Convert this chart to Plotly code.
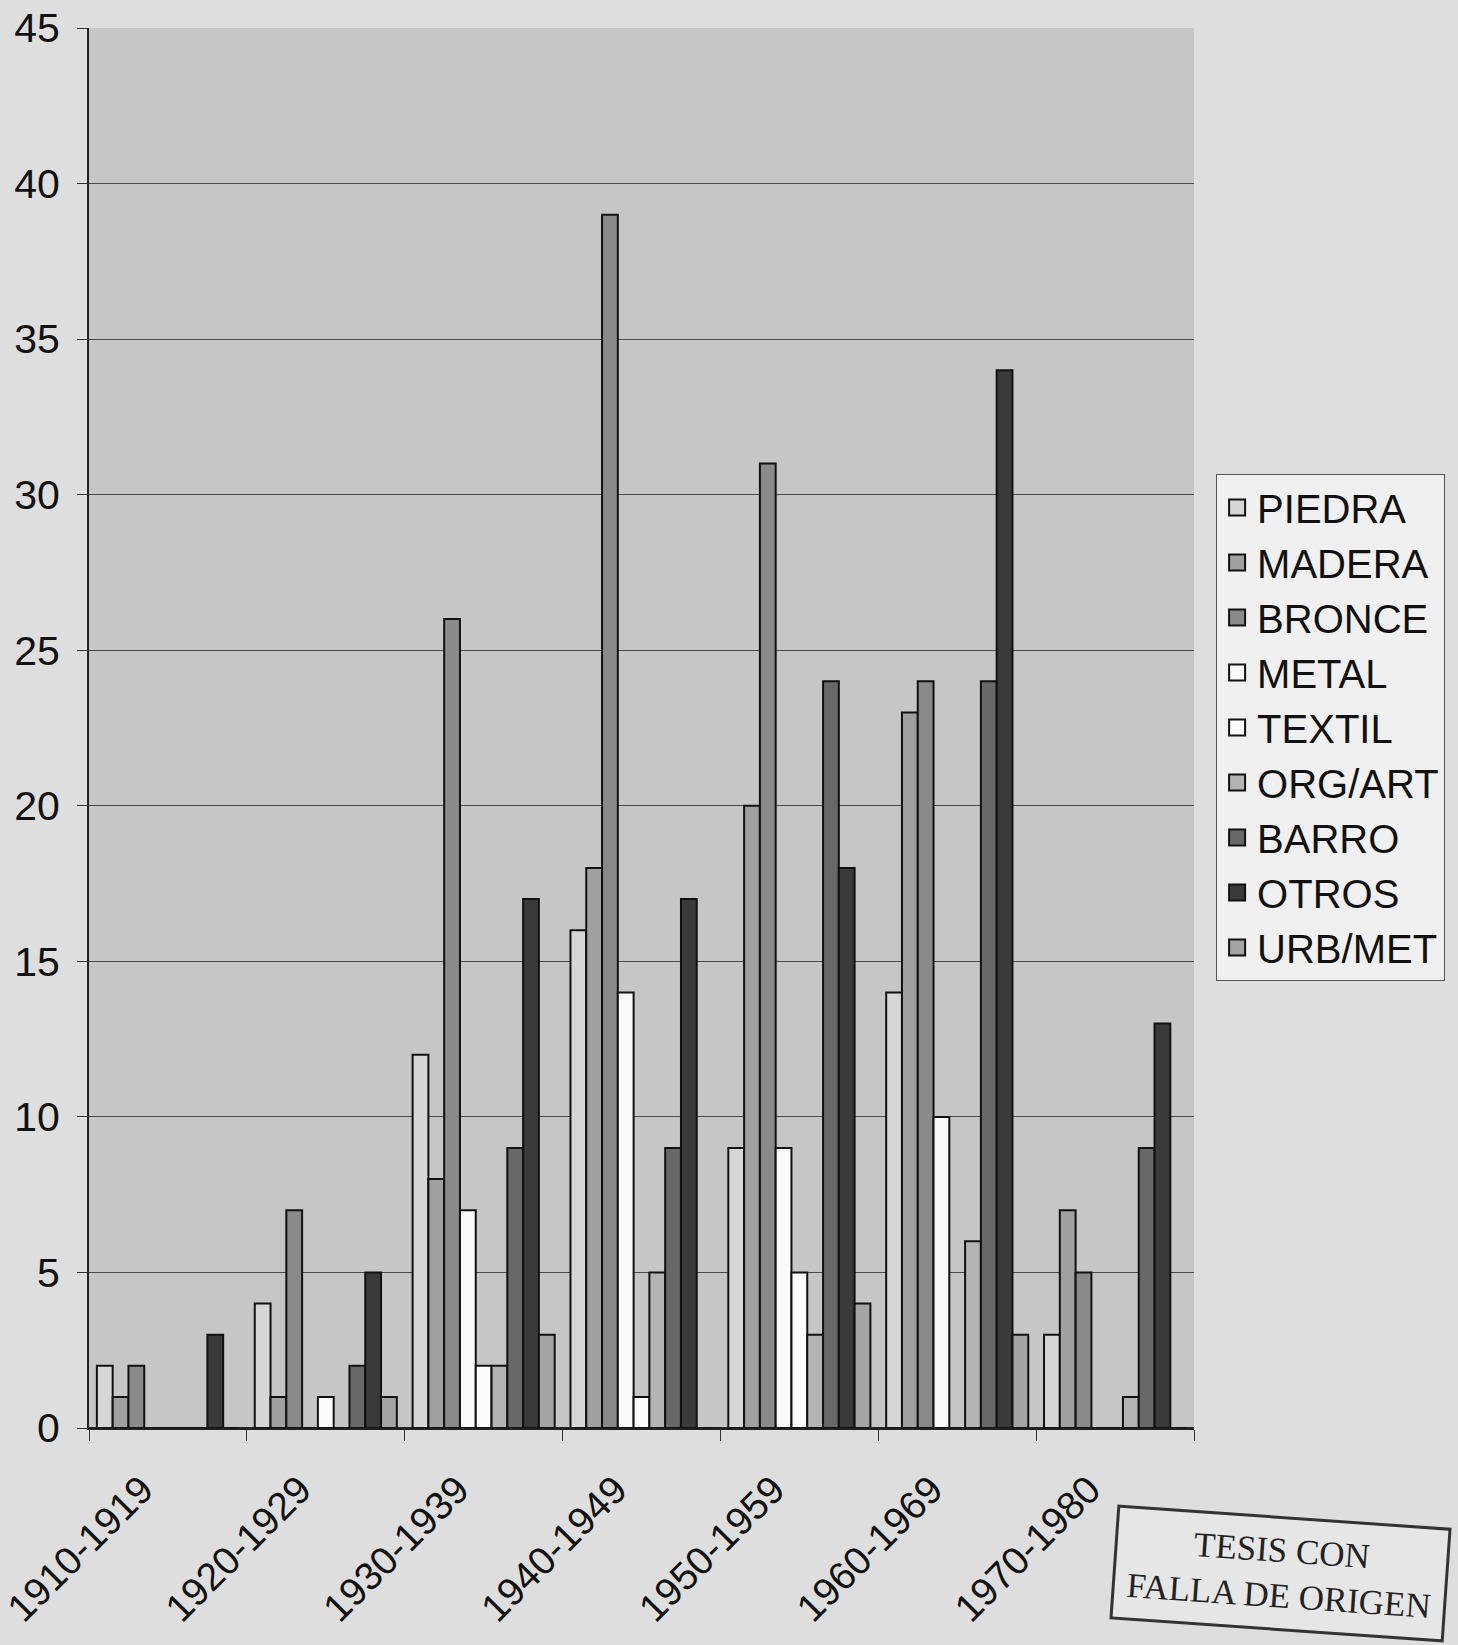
import plotly.graph_objects as go

decades = ["1910-1919", "1920-1929", "1930-1939", "1940-1949", "1950-1959", "1960-1969", "1970-1980"]

piedra  = [2, 4, 12, 16, 9, 14, 3]
madera  = [1, 1, 8, 18, 20, 23, 7]
bronce  = [2, 7, 26, 39, 31, 24, 5]
metal   = [0, 0, 7, 14, 9, 10, 0]
textil  = [0, 1, 2, 1, 5, 0, 0]
org_art = [0, 0, 2, 5, 3, 6, 1]
barro   = [0, 2, 9, 9, 24, 24, 9]
otros   = [3, 5, 17, 17, 18, 34, 13]
urb_met = [0, 1, 3, 0, 4, 3, 0]

series_names = ["PIEDRA", "MADERA", "BRONCE", "METAL", "TEXTIL", "ORG/ART", "BARRO", "OTROS", "URB/MET"]
series_values = [piedra, madera, bronce, metal, textil, org_art, barro, otros, urb_met]
series_colors = ["#d6d6d6", "#a0a0a0", "#8a8a8a", "#fafafa", "#fcfcfc", "#b4b4b4", "#686868", "#3a3a3a", "#a4a4a4"]

y_ticks = list(range(0, 46, 5))

fig = go.Figure()
for name, vals, col in zip(series_names, series_values, series_colors):
    fig.add_trace(go.Bar(
        name=name, x=decades, y=vals, showlegend=False,
        marker=dict(color=col, line=dict(color="#111111", width=2)),
    ))
# legend swatches (larger squares, as in the original legend)
for name, col in zip(series_names, series_colors):
    fig.add_trace(go.Scatter(
        name=name, x=[None], y=[None], mode="markers",
        marker=dict(symbol="square", size=20, color=col, line=dict(color="#111111", width=2)),
        hoverinfo="skip",
    ))

fig.update_layout(
    width=1458, height=1645,
    barmode="group", bargap=0.1, bargroupgap=0,
    paper_bgcolor="#dedede", plot_bgcolor="#c6c6c6",
    margin=dict(l=89, r=264, t=28, b=217),
    font=dict(family="Liberation Sans, Arial, sans-serif", color="#111111"),
    legend=dict(
        x=1.02, y=0.6815, xanchor="left", yanchor="top",
        bgcolor="#f0f0f0", bordercolor="#555555", borderwidth=1,
        font=dict(size=40, color="#111111"),
        tracegroupgap=0, itemwidth=30, itemsizing="trace",
    ),
    showlegend=True,
)

fig.update_xaxes(
    type="category", tickangle=-45, tickfont=dict(size=39),
    showline=True, linecolor="#222222", linewidth=2,
    ticks="outside", tickson="boundaries", ticklen=11, tickcolor="#333333",
    ticklabelshift=-26, ticklabelstandoff=21,
    showgrid=False, automargin=False, mirror=False,
)
fig.update_yaxes(
    range=[0, 45], tickvals=y_ticks, tickfont=dict(size=41),
    showline=True, linecolor="#222222", linewidth=2,
    ticks="outside", ticklen=10, tickcolor="#333333",
    ticklabelstandoff=9,
    showgrid=True, gridcolor="#4a4a4a", gridwidth=1,
    zeroline=True, zerolinecolor="#222222", zerolinewidth=2,
    automargin=False,
)

fig.add_annotation(
    xref="paper", yref="paper", x=1.078, y=-0.104, xanchor="center", yanchor="middle",
    text="TESIS CON<br>FALLA DE ORIGEN", showarrow=False,
    font=dict(family="Liberation Serif, Times New Roman, serif", size=35, color="#222222"),
    bordercolor="#333333", borderwidth=3, borderpad=12, textangle=4,
    bgcolor="rgba(235,235,235,0.6)",
)

fig.write_html(
    "out.html",
    config={"displayModeBar": False},
    post_script="document.body.style.margin='0';document.body.style.background='#dedede';",
)
